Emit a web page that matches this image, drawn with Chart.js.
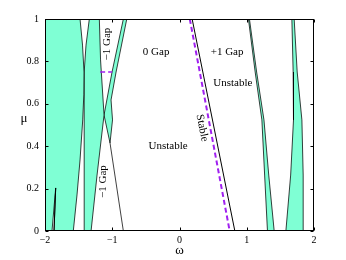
<!DOCTYPE html>
<html>
<head>
<meta charset="utf-8">
<script src="https://cdn.jsdelivr.net/npm/chart.js@4"></script>
<style>
  html, body { margin: 0; padding: 0; background: #fff; }
</style>
</head>
<body>
<canvas id="chart" width="346" height="260"></canvas>
<script>
// axis ticks
const xTicks = [-2, -1, 0, 1, 2];
const yTicks = [0, 0.2, 0.4, 0.6, 0.8, 1];

// unstable tongues (omega, mu), outlines
const leftW  = [-2, -1.896, -1.841, -1.866, -1.579, -1.524, -1.479, -1.439, -1.423, -1.420, -1.442, -1.479, -2, -2];
const leftM  = [0, 0, 0.203, 0, 0, 0.17, 0.335, 0.524, 0.642, 0.75, 0.877, 1, 1, 0];
const midW   = [-1.341, -1.192, -1.174, -1.122, -1.226, -1.315, -1.415, -1.415, -1.417, -1.420, -1.390, -1.341];
const midM   = [1, 1, 0.807, 0.547, 0.264, 0, 0, 0.382, 0.618, 0.75, 0.877, 1];
const stripW = [-0.835, -0.784, -0.943, -1.018, -0.996, -1.033, -1.1, -1.122, -1.003, -0.835];
const stripM = [1, 1, 0.75, 0.618, 0.524, 0.415, 0.514, 0.547, 0.75, 1];
const r1W    = [1.025, 1.125, 1.225, 1.266, 1.308, 1.408, 1.327, 1.256, 1.147, 1.04, 1.025];
const r1M    = [1, 0.75, 0.524, 0.264, 0, 0, 0.264, 0.524, 0.75, 1, 1];
const r2W    = [1.671, 1.690, 1.695, 1.653, 1.582, 1.844, 1.839, 1.820, 1.750, 1.705, 1.671];
const r2M    = [1, 0.75, 0.524, 0.264, 0, 0, 0.264, 0.524, 0.75, 1, 1];

// extra boundary lines
const tailW  = [-1.033, -0.835];
const tailM  = [0.415, 0];
const spikeW = [-1.841, -1.866];
const spikeM = [0.203, 0];

// stability boundary (solid) and its approximation (dashed)
const stableW = [0.188, 0.823];
const stableM = [1, 0];
const dashW   = [0.153, 0.746];
const dashM   = [1, 0];
const dashSegW = [-1.18, -1.0];
const dashSegM = [0.75, 0.75];

// text in the plot
const notes = [
  { text: '0 Gap',    w: -0.348, m: 0.844, rot: 0 },
  { text: '+1 Gap',   w: 0.708,  m: 0.844, rot: 0 },
  { text: 'Unstable', w: 0.793,  m: 0.698, rot: 0 },
  { text: 'Unstable', w: -0.170, m: 0.401, rot: 0 },
  { text: 'Stable',   w: 0.336,  m: 0.486, rot: 78.6 },
  { text: '\u22121 Gap', w: -1.082, m: 0.882, rot: -90 },
  { text: '\u22121 Gap', w: -1.137, m: 0.233, rot: -90 }
];

const serif = "'Liberation Serif', 'Times New Roman', serif";
const pts = (w, m) => w.map((v, i) => ({ x: v, y: m[i] }));

const region = (w, m) => ({
  data: pts(w, m),
  fill: 'shape',
  backgroundColor: '#7fffd4',
  borderColor: 'rgba(0,0,0,0.75)',
  borderWidth: 1,
  order: 2
});
const curve = (w, m, color, dash, width) => ({
  data: pts(w, m),
  fill: false,
  borderColor: color,
  borderWidth: width,
  borderDash: dash,
  order: 1
});

// box, inward ticks, in-plot text and axis symbols
const decor = {
  id: 'decor',
  afterDatasetsDraw(chart) {
    const { ctx, chartArea: a, scales: { x, y } } = chart;
    ctx.save();
    ctx.strokeStyle = '#000';
    ctx.lineWidth = 1;
    const L = Math.round(a.left) + 0.5, R = Math.round(a.right) - 0.5;
    const T = Math.round(a.top) + 0.5, B = Math.round(a.bottom) - 0.5;
    ctx.strokeRect(L, T, R - L, B - T);
    ctx.beginPath();
    xTicks.forEach(v => {
      const px = Math.round(x.getPixelForValue(v)) + 0.5;
      ctx.moveTo(px, B); ctx.lineTo(px, B - 3);
      ctx.moveTo(px, T); ctx.lineTo(px, T + 3);
    });
    yTicks.forEach(v => {
      const py = Math.round(y.getPixelForValue(v)) + 0.5;
      ctx.moveTo(L, py); ctx.lineTo(L + 3, py);
      ctx.moveTo(R, py); ctx.lineTo(R - 3, py);
    });
    ctx.stroke();

    ctx.fillStyle = '#000';
    ctx.textAlign = 'center';
    ctx.textBaseline = 'middle';
    ctx.font = '11px ' + serif;
    notes.forEach(n => {
      ctx.save();
      ctx.translate(x.getPixelForValue(n.w), y.getPixelForValue(n.m));
      ctx.rotate(n.rot * Math.PI / 180);
      ctx.fillText(n.text, 0, 0);
      ctx.restore();
    });

    ctx.font = '13px ' + serif;
    ctx.fillText('\u03c9', (a.left + a.right) / 2, 251);
    ctx.fillText('\u03bc', 24, (a.top + a.bottom) / 2 - 6);
    ctx.restore();
  }
};

new Chart(document.getElementById('chart'), {
  type: 'line',
  data: {
    datasets: [
      region(leftW, leftM),
      region(midW, midM),
      region(stripW, stripM),
      region(r1W, r1M),
      region(r2W, r2M),
      curve(tailW, tailM, 'rgba(0,0,0,0.75)', [], 1),
      curve(spikeW, spikeM, '#000', [], 1),
      curve(stableW, stableM, '#000', [], 1),
      curve(dashW, dashM, '#a020f0', [5, 3], 2),
      curve(dashSegW, dashSegM, '#a020f0', [5, 3], 1.5)
    ]
  },
  plugins: [decor],
  options: {
    responsive: false,
    animation: false,
    events: [],
    layout: { padding: { top: 19, right: 32, left: 0, bottom: 0 } },
    elements: { point: { radius: 0 }, line: { tension: 0 } },
    scales: {
      x: {
        type: 'linear',
        min: -2,
        max: 2,
        afterFit: s => { s.height = 29; },
        afterBuildTicks: s => { s.ticks = xTicks.map(v => ({ value: v })); },
        grid: { display: false, drawTicks: false },
        border: { display: false },
        ticks: {
          padding: 3,
          color: '#000',
          font: { family: serif, size: 10 },
          callback: v => (v < 0 ? '\u2212' + Math.abs(v) : String(v))
        }
      },
      y: {
        type: 'linear',
        min: 0,
        max: 1,
        afterFit: s => { s.width = 45; },
        afterBuildTicks: s => { s.ticks = yTicks.map(v => ({ value: v })); },
        grid: { display: false, drawTicks: false },
        border: { display: false },
        ticks: {
          padding: 6,
          color: '#000',
          font: { family: serif, size: 10 },
          callback: v => String(Math.round(v * 10) / 10)
        }
      }
    },
    plugins: {
      legend: { display: false },
      tooltip: { enabled: false }
    }
  }
});
</script>
</body>
</html>
